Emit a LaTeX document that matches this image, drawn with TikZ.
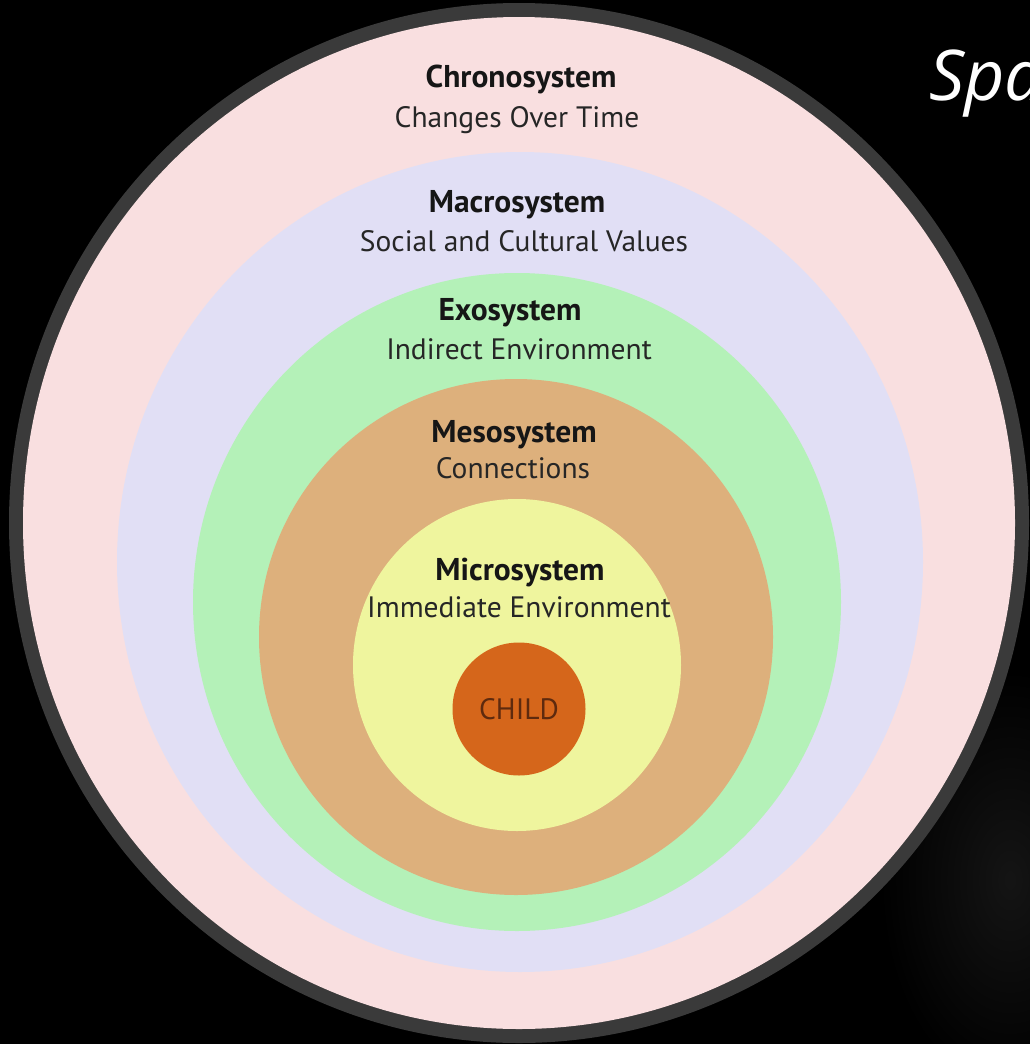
\documentclass[tikz,border=0pt]{standalone}
\usepackage{fontspec}
\setmainfont{PT Sans}
\newfontfamily\headfont{Open Sans}

\definecolor{ringcol}{HTML}{3A3A3A}
\definecolor{chronocol}{HTML}{F9DFE0}
\definecolor{macrocol}{HTML}{E1DFF5}
\definecolor{exocol}{HTML}{B4F1B8}
\definecolor{mesocol}{HTML}{DDB07C}
\definecolor{microcol}{HTML}{EFF59E}
\definecolor{childcol}{HTML}{D5661B}
\definecolor{titlecol}{HTML}{161616}
\definecolor{subcol}{HTML}{262626}
\definecolor{childtext}{HTML}{5E2A0E}

\begin{document}
\begin{tikzpicture}[x=1pt,y=-1pt,
  title/.style={anchor=base, inner sep=0pt, text=titlecol,
    font=\bfseries\fontsize{31.5}{36}\selectfont},
  subtitle/.style={anchor=base, inner sep=0pt, text=subcol,
    font=\fontsize{29.5}{34}\selectfont}]

% black slide background with a faint glow at the lower right
\fill[black] (0,0) rectangle (1030,1044);
\useasboundingbox (0,0) rectangle (1030,1044);
\shade[inner color=white!8!black, outer color=black]
  (1010,880) ellipse [x radius=130, y radius=210];

% nested system layers
\fill[ringcol]   (519,523) ellipse [x radius=510, y radius=520];
\fill[chronocol] (519,523) ellipse [x radius=496, y radius=506];
\fill[macrocol]  (520,562) ellipse [x radius=403, y radius=410];
\fill[exocol]    (517,602) ellipse [x radius=324, y radius=329];
\fill[mesocol]   (516,637) ellipse [x radius=257, y radius=258];
\fill[microcol]  (517,665) ellipse [x radius=164, y radius=166];
\node[circle, fill=childcol, minimum size=133pt, inner sep=0pt,
      text=childtext, font=\fontsize{29.5}{34}\selectfont]
  (child) at (519,709) {CHILD};

% layer labels
\node[title]    (chrono)    at (521,87)  {Chronosystem};
\node[subtitle] (chronosub) at (517,127) {Changes Over Time};
\node[title]    (macro)     at (517,212) {Macrosystem};
\node[subtitle] (macrosub)  at (524,251) {Social and Cultural Values};
\node[title]    (exo)       at (510,320) {Exosystem};
\node[subtitle] (exosub)    at (519,359) {Indirect Environment};
\node[title]    (meso)      at (514,442) {Mesosystem};
\node[subtitle] (mesosub)   at (513,478) {Connections};
\node[title]    (micro)     at (520,580) {Microsystem};
\node[subtitle] (microsub)  at (519,617) {Immediate Environment};

% slide heading running off the right edge
\begin{scope}
  \clip (0,0) rectangle (1030,1044);
  \node[anchor=base west, inner sep=0pt, text=white,
        font=\headfont\itshape\fontsize{70}{80}\selectfont]
    (heading) at (929,100) {Spa};
\end{scope}
\end{tikzpicture}
\end{document}
